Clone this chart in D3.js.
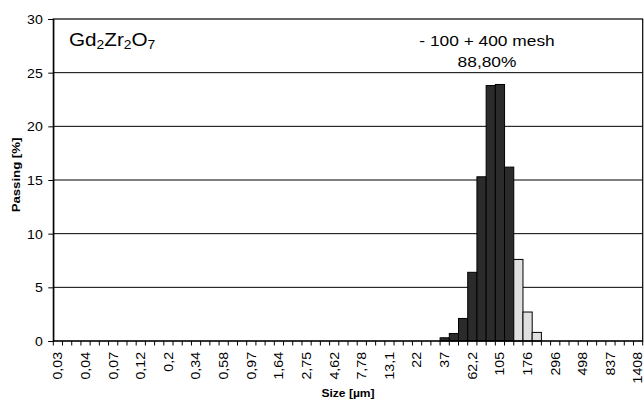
<!DOCTYPE html>
<html>
<head>
<meta charset="utf-8">
<script src="https://cdn.jsdelivr.net/npm/d3@7"></script>
<style>
  html, body { margin: 0; padding: 0; background: #fff; }
  svg { display: block; }
  text { font-family: "Liberation Sans", Arial, Helvetica, sans-serif; fill: #000; }
</style>
</head>
<body>
<svg id="chart" width="644" height="401"></svg>
<script>
// ---- Data ----
// Size classes [µm] (fourth-root-of-two sieve series); only every third is labelled on the axis
const sizeClasses = [
  "0,03","0,030","0,036","0,04","0,051","0,061","0,07","0,086","0,10","0,12",
  "0,14","0,17","0,2","0,24","0,29","0,34","0,41","0,49","0,58","0,69",
  "0,82","0,97","1,16","1,38","1,64","1,94","2,31","2,75","3,27","3,89",
  "4,62","5,5","6,54","7,78","9,25","11","13,1","15,6","18,5","22",
  "26,2","31,1","37","44","52,3","62,2","74","88","105","125",
  "148","176","209","249","296","352","419","498","592","704",
  "837","995","1184","1408"
];
const tickLabels = ["0,03","0,04","0,07","0,12","0,2","0,34","0,58","0,97","1,64","2,75",
  "4,62","7,78","13,1","22","37","62,2","105","176","296","498","837","1408"];
// Passing [%] inside the -100 +400 mesh fraction (dark bars)
const passingInMesh = [
  0,0,0,0,0,0,0,0,0,0, 0,0,0,0,0,0,0,0,0,0,
  0,0,0,0,0,0,0,0,0,0, 0,0,0,0,0,0,0,0,0,0,
  0,0,0.3,0.7,2.1,6.4,15.3,23.8,23.9,16.2,
  0,0,0,0,0,0,0,0,0,0, 0,0,0,0
];
// Passing [%] outside the mesh fraction (light bars)
const passingOutMesh = [
  0,0,0,0,0,0,0,0,0,0, 0,0,0,0,0,0,0,0,0,0,
  0,0,0,0,0,0,0,0,0,0, 0,0,0,0,0,0,0,0,0,0,
  0,0,0,0,0,0,0,0,0,0,
  7.6,2.7,0.8,0,0,0,0,0,0,0, 0,0,0,0
];
const yTicks = [0, 5, 10, 15, 20, 25, 30];
const yMax = 30;
const materialName = [["Gd", false], ["2", true], ["Zr", false], ["2", true], ["O", false], ["7", true]];
const meshLabel = "- 100 + 400 mesh";
const meshPercent = "88,80%";

// ---- Layout ----
const W = 644, H = 401;
const plot = { left: 53.3, right: 642.7, top: 19, bottom: 341 };
const SX = 1.13; // glyph widening along text direction

const svg = d3.select("#chart");

const x = d3.scaleBand().domain(d3.range(sizeClasses.length)).range([plot.left, plot.right]).padding(0);
const y = d3.scaleLinear().domain([0, yMax]).range([plot.bottom, plot.top]);

// gridlines
svg.append("g").selectAll("line").data(yTicks.filter(d => d > 0 && d < yMax)).join("line")
  .attr("x1", plot.left).attr("x2", plot.right)
  .attr("y1", d => y(d)).attr("y2", d => y(d))
  .attr("stroke", "#000").attr("stroke-width", 1);

// bars
const bars = svg.append("g");
const barData = sizeClasses.map((c, i) => ({ i, inM: passingInMesh[i], outM: passingOutMesh[i] }));
bars.selectAll("rect.in").data(barData.filter(d => d.inM > 0)).join("rect")
  .attr("class", "in")
  .attr("x", d => x(d.i)).attr("width", x.bandwidth())
  .attr("y", d => y(d.inM)).attr("height", d => y(0) - y(d.inM))
  .attr("fill", "#2b2b2b").attr("stroke", "#000").attr("stroke-width", 1);
bars.selectAll("rect.out").data(barData.filter(d => d.outM > 0)).join("rect")
  .attr("class", "out")
  .attr("x", d => x(d.i)).attr("width", x.bandwidth())
  .attr("y", d => y(d.outM)).attr("height", d => y(0) - y(d.outM))
  .attr("fill", "#e0e0e0").attr("stroke", "#000").attr("stroke-width", 1);

// plot frame
svg.append("rect")
  .attr("x", plot.left).attr("y", plot.top)
  .attr("width", plot.right - plot.left).attr("height", plot.bottom - plot.top)
  .attr("fill", "none").attr("stroke", "#000").attr("stroke-width", 1.2);

// y axis
const yAxis = svg.append("g").attr("transform", `translate(${plot.left},0)`)
  .call(d3.axisLeft(y).tickValues(yTicks).tickSize(5).tickFormat(d3.format("d")));
yAxis.select(".domain").attr("stroke", "#000").attr("stroke-width", 1.2);
yAxis.selectAll(".tick line").attr("stroke", "#000");
yAxis.selectAll(".tick text").remove();
yAxis.selectAll(".tick").append("g")
  .attr("transform", "translate(-10.5,0) scale(" + SX + ",1)")
  .append("text")
  .attr("text-anchor", "end").attr("dy", "0.35em")
  .style("font-size", "12.5px")
  .text(d => d);

// x axis: ticks at class boundaries, labels every third class
const xAxisG = svg.append("g");
xAxisG.append("line")
  .attr("x1", plot.left).attr("x2", plot.right)
  .attr("y1", plot.bottom).attr("y2", plot.bottom)
  .attr("stroke", "#000").attr("stroke-width", 1.2);
const boundaries = d3.range(sizeClasses.length + 1);
xAxisG.selectAll("line.tk").data(boundaries).join("line")
  .attr("class", "tk")
  .attr("x1", d => d < sizeClasses.length ? x(d) : plot.right)
  .attr("x2", d => d < sizeClasses.length ? x(d) : plot.right)
  .attr("y1", plot.bottom).attr("y2", plot.bottom + 4.5)
  .attr("stroke", "#000").attr("stroke-width", 1);
const labelled = tickLabels.map(l => sizeClasses.indexOf(l));
xAxisG.selectAll("g.xl").data(tickLabels).join("g")
  .attr("class", "xl")
  .attr("transform", (d, k) => `translate(${x(labelled[k]) + x.bandwidth() / 2},352) rotate(-90) scale(${SX},1)`)
  .append("text")
  .attr("text-anchor", "end").attr("dy", "0.35em")
  .style("font-size", "12.5px")
  .text(d => d);

// axis titles
svg.append("g").attr("transform", `translate(16,175) rotate(-90) scale(1.2,1)`)
  .append("text").attr("text-anchor", "middle").attr("dy", "0.35em")
  .style("font-size", "11px").style("font-weight", "bold")
  .text("Passing [%]");
svg.append("g").attr("transform", `translate(${(plot.left + plot.right) / 2},393) scale(1.15,1)`)
  .append("text").attr("text-anchor", "middle").attr("dy", "0.35em")
  .style("font-size", "10.5px").style("font-weight", "bold")
  .text("Size [µm]");

// material name with subscripts
const title = svg.append("g").attr("transform", `translate(69,46) scale(1.15,1)`)
  .append("text").style("font-size", "18px");
materialName.forEach(([t, sub]) => {
  title.append("tspan")
    .attr("baseline-shift", sub ? "-22%" : null)
    .style("font-size", sub ? "12px" : null)
    .text(t);
});

// mesh annotation
const ann = svg.append("g").attr("transform", `translate(487,0) scale(1.12,1)`);
ann.append("text").attr("x", 0).attr("y", 46).attr("text-anchor", "middle")
  .style("font-size", "15.5px").text(meshLabel);
ann.append("text").attr("x", 0).attr("y", 67).attr("text-anchor", "middle")
  .style("font-size", "15.5px").text(meshPercent);
</script>
</body>
</html>
